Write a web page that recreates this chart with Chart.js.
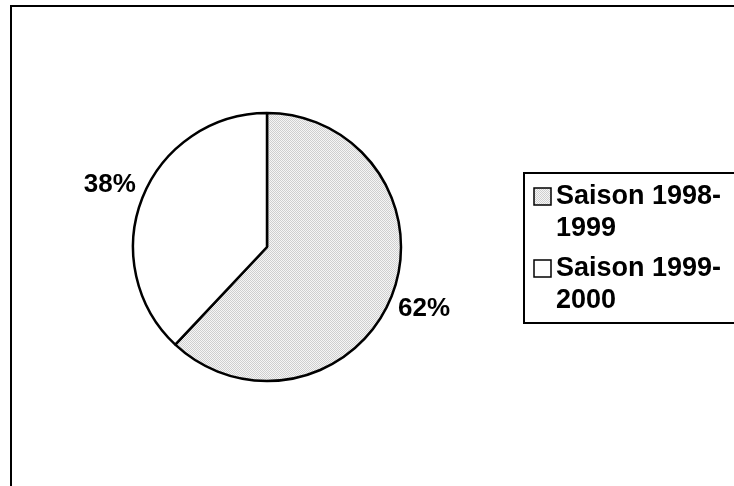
<!DOCTYPE html>
<html>
<head>
<meta charset="utf-8">
<script src="https://cdn.jsdelivr.net/npm/chart.js@4/dist/chart.umd.min.js"></script>
<style>
    html, body { margin: 0; padding: 0; background: #fff; overflow: hidden; }
    #pie { display: block; }
</style>
</head>
<body>
<canvas id="pie" width="734" height="486"></canvas>
<script>
// ===============================
// DATA
// ===============================

const categories = ["Saison 1998-1999", "Saison 1999-2000"];
const values = [62, 38];
const legendLines = [["Saison 1998-", "1999"], ["Saison 1999-", "2000"]];

const FONT = "bold 26px 'Liberation Sans', Arial, sans-serif";
const LEGEND_FONT = "bold 27px 'Liberation Sans', Arial, sans-serif";

// dotted grey fill, like the old excel pattern
function makeDots(){
    const c = document.createElement("canvas");
    c.width = 2; c.height = 2;
    const g = c.getContext("2d");
    g.fillStyle = "#f6f6f6";
    g.fillRect(0, 0, 2, 2);
    g.fillStyle = "#cfcfcf";
    g.fillRect(0, 0, 1, 1);
    g.fillRect(1, 1, 1, 1);
    return g.createPattern(c, "repeat");
}

const dots = makeDots();
const fills = [dots, "#ffffff"];

// ===============================
// PLUGINS
// ===============================

// outer frame (only left and top edges fall inside the picture)
const framePlugin = {
    id: "frame",
    beforeDraw(chart){
        const ctx = chart.ctx;
        ctx.save();
        ctx.strokeStyle = "#000";
        ctx.lineWidth = 2;
        ctx.strokeRect(11, 6, 800, 600);
        ctx.restore();
    }
};

// percentage labels outside the slices
const pctPlugin = {
    id: "pct",
    afterDatasetsDraw(chart){
        const ctx = chart.ctx;
        const meta = chart.getDatasetMeta(0);
        ctx.save();
        ctx.font = FONT;
        ctx.fillStyle = "#000";
        ctx.textAlign = "center";
        ctx.textBaseline = "middle";
        meta.data.forEach((arc, i) => {
            const p = arc.getProps(["x", "y", "startAngle", "endAngle", "outerRadius"], true);
            const mid = (p.startAngle + p.endAngle) / 2;
            const r = p.outerRadius + 35;
            ctx.fillText(values[i] + "%", p.x + Math.cos(mid) * r, p.y + Math.sin(mid) * r);
        });
        ctx.restore();
    }
};

// boxed legend with wrapped labels
const legendPlugin = {
    id: "boxLegend",
    afterDraw(chart){
        const ctx = chart.ctx;
        ctx.save();
        ctx.strokeStyle = "#000";
        ctx.lineWidth = 2;
        ctx.fillStyle = "#fff";
        ctx.fillRect(524, 173, 300, 150);
        ctx.strokeRect(524, 173, 300, 150);

        ctx.font = LEGEND_FONT;
        ctx.textBaseline = "middle";
        const top = [196, 268];
        categories.forEach((c, i) => {
            const y = top[i];
            ctx.fillStyle = fills[i];
            ctx.fillRect(534, y - 8, 17, 17);
            ctx.lineWidth = 1.5;
            ctx.strokeStyle = "#000";
            ctx.strokeRect(534, y - 8, 17, 17);
            ctx.fillStyle = "#000";
            legendLines[i].forEach((t, k) => {
                ctx.fillText(t, 556, y + 1 + k * 32);
            });
        });
        ctx.restore();
    }
};

// ===============================
// CHART
// ===============================

new Chart(document.getElementById("pie"), {
    type: "pie",
    data: {
        labels: categories,
        datasets: [{
            data: values,
            backgroundColor: fills,
            borderColor: "#000",
            borderWidth: 2.5,
            hoverOffset: 0
        }]
    },
    options: {
        responsive: false,
        animation: false,
        radius: 134,
        layout: {
            padding: { left: 133, right: 333, top: 112, bottom: 104 }
        },
        plugins: {
            legend: { display: false },
            tooltip: { enabled: false }
        }
    },
    plugins: [framePlugin, pctPlugin, legendPlugin]
});
</script>
</body>
</html>
